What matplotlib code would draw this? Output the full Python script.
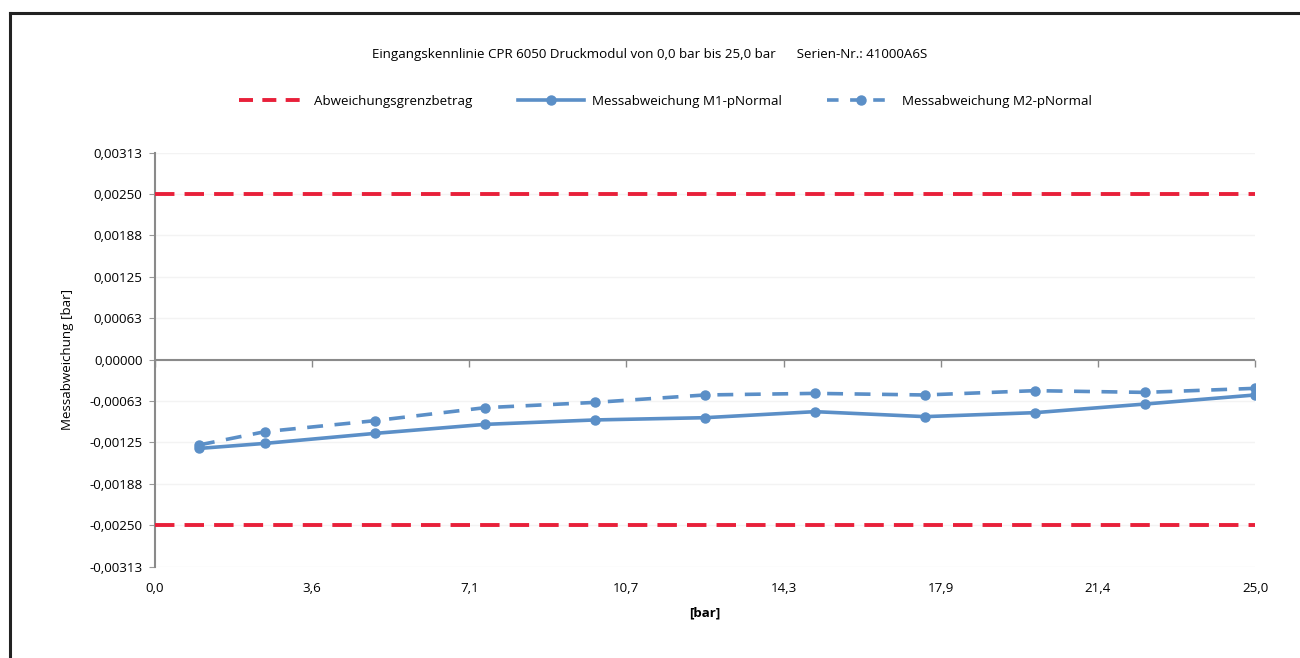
import matplotlib
matplotlib.use("Agg")
import matplotlib.pyplot as plt
from matplotlib.lines import Line2D
from matplotlib.markers import TICKDOWN

plt.rcParams['font.family'] = ['Open Sans', 'DejaVu Sans']

# ---- data ----
pressure = [1.0, 2.5, 5.0, 7.5, 10.0, 12.5, 15.0, 17.5, 20.0, 22.5, 25.0]
m1 = [-0.00134, -0.001264, -0.001113, -0.000977, -0.00091, -0.000876,
      -0.000785, -0.00086, -0.0008, -0.00067, -0.000533]
m2 = [-0.001288, -0.001087, -0.000921, -0.000725, -0.000645, -0.000533,
      -0.000509, -0.000533, -0.000468, -0.000494, -0.000433]
limit = 0.0025
x_ticks = [0.0, 25/7, 50/7, 75/7, 100/7, 125/7, 150/7, 25.0]
x_ticklabels = ['0,0', '3,6', '7,1', '10,7', '14,3', '17,9', '21,4', '25,0']
y_ticks = [-0.003125, -0.0025, -0.001875, -0.00125, -0.000625, 0.0,
           0.000625, 0.00125, 0.001875, 0.0025, 0.003125]
y_ticklabels = ['-0,00313', '-0,00250', '-0,00188', '-0,00125', '-0,00063',
                '0,00000', '0,00063', '0,00125', '0,00188', '0,00250', '0,00313']
title = 'Eingangskennlinie CPR 6050 Druckmodul von 0,0 bar bis 25,0 bar      Serien-Nr.: 41000A6S'
labels = ['Abweichungsgrenzbetrag', 'Messabweichung M1-pNormal', 'Messabweichung M2-pNormal']

red = '#E8203A'
blue = '#5B8FC7'
fs = 9.6

fig = plt.figure(figsize=(13, 6.58), dpi=100)
ax = fig.add_axes([0.1192, 0.1388, 0.8462, 0.6292])

ax.set_xlim(0, 25)
ax.set_ylim(-0.003125, 0.003125)

# zero axis line with downward tick marks
ax.axhline(0, color='#8A8A8A', lw=1.5, zorder=2)
ax.plot(x_ticks, [0.0] * len(x_ticks), linestyle='none', marker=TICKDOWN,
        ms=5, mew=1, color='#8A8A8A', clip_on=False, zorder=2)

# limits
ax.plot([0, 25], [limit, limit], color=red, lw=2.8, dashes=(5, 2.6), zorder=3)
ax.plot([0, 25], [-limit, -limit], color=red, lw=2.8, dashes=(5, 2.6), zorder=3)
# series
ax.plot(pressure, m1, color=blue, lw=2.6, marker='o', ms=6.5, zorder=4)
ax.plot(pressure, m2, color=blue, lw=2.6, marker='o', ms=6.5, dashes=(4.4, 3.2), zorder=4)

# gridlines
ax.set_yticks(y_ticks)
ax.set_yticklabels(y_ticklabels, fontsize=fs)
ax.grid(axis='y', color='#F3F3F3', lw=1)
ax.set_axisbelow(True)

ax.set_xticks(x_ticks)
ax.set_xticklabels(x_ticklabels, fontsize=fs)
ax.tick_params(axis='x', length=0, pad=11)
ax.tick_params(axis='y', length=4, color='#9A9A9A', direction='out', pad=5)

for s in ['top', 'right', 'bottom']:
    ax.spines[s].set_visible(False)
ax.spines['left'].set_color('#8A8A8A')
ax.spines['left'].set_linewidth(1.5)

ax.set_xlabel('[bar]', fontsize=fs, fontweight='bold', labelpad=8)
ax.set_ylabel('Messabweichung [bar]', fontsize=fs, labelpad=11)

fig.text(0.5, 0.917, title, ha='center', va='center', fontsize=fs)

handles = [
    Line2D([], [], color=red, lw=2.8, dashes=(3.6, 2.4)),
    Line2D([], [], color=blue, lw=2.6, marker='o', ms=6.5),
    Line2D([], [], color=blue, lw=2.6, marker='o', ms=6.5, dashes=(3.2, 3.2)),
]
fig.legend(handles, labels, loc='center', bbox_to_anchor=(0.512, 0.846), ncol=3,
           frameon=False, fontsize=fs, handlelength=5, columnspacing=3.4,
           handletextpad=0.6)

# figure frame lines (top and left)
fig.add_artist(Line2D([0.0077, 1.0], [0.981, 0.981], transform=fig.transFigure,
                      color='#222222', lw=2.2))
fig.add_artist(Line2D([0.0077, 0.0077], [0.0, 0.981], transform=fig.transFigure,
                      color='#222222', lw=2.2))

fig.savefig('out.png', dpi=100)
